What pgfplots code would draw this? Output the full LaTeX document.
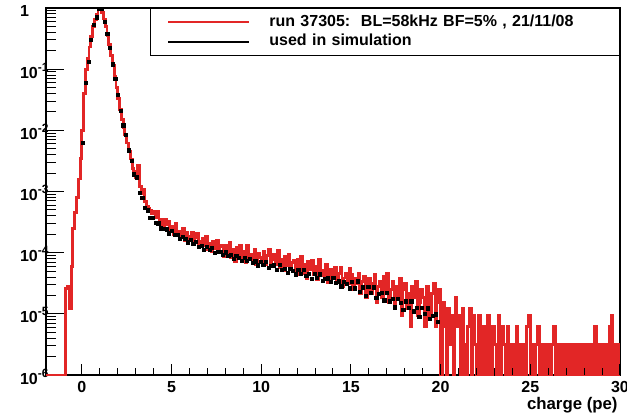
\documentclass[border=0pt]{standalone}
\usepackage{fontspec}
\setmainfont{Liberation Sans}
\usepackage{pgfplots}
\pgfplotsset{compat=1.18}
\definecolor{rootred}{RGB}{226,38,38}
\newcommand{\tenpow}[1]{10\raisebox{3.5pt}{\fontsize{6}{6}\selectfont\bfseries #1}}
\begin{document}
\begin{tikzpicture}
\useasboundingbox (-23pt,-21pt) rectangle (290.5pt,187.5pt);
\begin{axis}[
  at={(0,0)}, anchor=south west,
  scale only axis, width=287pt, height=183.5pt,
  xmin=-2, xmax=30, ymin=1e-6, ymax=1, ymode=log,
  axis line style={line width=0.6pt},
  tick align=inside, tick pos=left,
  xtick={0,5,10,15,20,25,30}, xticklabels={0,5,10,15,20,25,30},
  x tick style={draw=none},
  ytick={1e-6,1e-5,1e-4,1e-3,1e-2,1e-1,1},
  yticklabels={\tenpow{-6},\tenpow{-5},\tenpow{-4},\tenpow{-3},\tenpow{-2},\tenpow{-1},1},
  minor ytick={2e-6,3e-6,4e-6,5e-6,6e-6,7e-6,8e-6,9e-6,2e-5,3e-5,4e-5,5e-5,6e-5,7e-5,8e-5,9e-5,2e-4,3e-4,4e-4,5e-4,6e-4,7e-4,8e-4,9e-4,2e-3,3e-3,4e-3,5e-3,6e-3,7e-3,8e-3,9e-3,2e-2,3e-2,4e-2,5e-2,6e-2,7e-2,8e-2,9e-2,0.2,0.3,0.4,0.5,0.6,0.7,0.8,0.9},
  major tick length=9pt, minor tick length=5pt,
  y tick style={line width=0.5pt, black},
  tick label style={font=\bfseries\fontsize{8}{9}\selectfont},
  xticklabel style={anchor=base, yshift=-8.5pt},
  yticklabel style={anchor=base west, xshift=-16.5pt, yshift=-4.5pt},
  xlabel={charge (pe)},
  xlabel style={at={(axis description cs:1,0)}, anchor=north east, inner sep=0pt, yshift=-11pt, xshift=-1pt, font=\bfseries\fontsize{8.4}{10}\selectfont},
  legend cell align=left,
  legend image code/.code={\draw[#1] (0pt,0pt) -- (40.5pt,0pt);},
  legend style={at={(1,1)}, anchor=north east, draw=black, line width=0.6pt,
    inner xsep=8.5pt, inner ysep=2pt,
    font=\bfseries\fontsize{8}{9.6}\selectfont,
    nodes={inner xsep=0pt, inner ysep=1.2pt, text width=166.5pt, align=left},
    /tikz/column sep=9.5pt},
]
\addplot[const plot, rootred, line width=1.45pt, forget plot] coordinates {
(-2.0,1e-6)(-1.9,1e-6)(-1.8,1e-6)(-1.7,1e-6)(-1.6,1e-6)(-1.5,1e-6)(-1.4,1e-6)(-1.3,1e-6)(-1.2,1e-6)(-1.1,1e-6)(-1.0,1e-6)
(-0.9,2.6e-5)(-0.8,2.8e-5)(-0.7,1.2e-5)(-0.6,6e-5)(-0.5,2.5e-4)(-0.4,4.5e-4)(-0.3,8e-4)(-0.2,1.6e-3)(-0.1,3.5e-3)
(0.0,0.01)(0.1,0.04)(0.2,0.1)(0.3,0.15)(0.4,0.23)(0.5,0.34)(0.6,0.5)(0.7,0.64)(0.8,0.78)(0.9,0.93)
(1.0,1.0)(1.1,0.85)(1.2,0.66)(1.3,0.5)(1.4,0.36)(1.5,0.25)(1.6,0.17)(1.7,0.115)(1.8,0.075)(1.9,0.05)
(2.0,0.033)(2.1,0.022)(2.2,0.015)(2.3,0.011)(2.4,0.0085)(2.5,0.0062)(2.6,0.0046)(2.7,0.0034)(2.8,0.0024)(2.9,0.0021)
(3.0,0.0017)(3.1,0.0027)(3.2,0.0012)(3.3,0.00092)(3.4,0.0011)(3.5,0.00068)(3.6,0.00058)(3.7,0.00052)(3.8,0.00049)(3.9,0.00044)
(4.0,4.7e-4)(4.1,3.7e-4)(4.2,4.7e-4)(4.3,3.0e-4)(4.4,3.55e-4)(4.5,2.57e-4)(4.6,3.55e-4)(4.7,2.9e-4)(4.8,3.3e-4)(4.9,2.34e-4)
(5.0,2.71e-4)(5.1,2.0e-4)(5.2,3.0e-4)(5.3,2.07e-4)(5.4,2.24e-4)(5.5,1.84e-4)(5.6,2.49e-4)(5.7,1.59e-4)(5.8,2.16e-4)(5.9,1.86e-4)
(6.0,1.72e-4)(6.1,2.16e-4)(6.2,1.47e-4)(6.3,1.8e-4)(6.4,2.08e-4)(6.5,1.27e-4)(6.6,1.55e-4)(6.7,1.74e-4)(6.8,1.29e-4)(6.9,1.86e-4)
(7.0,1.14e-4)(7.1,1.43e-4)(7.2,1.03e-4)(7.3,1.52e-4)(7.4,1.16e-4)(7.5,1.57e-4)(7.6,1.07e-4)(7.7,1.24e-4)(7.8,1.31e-4)(7.9,8.7e-5)
(8.0,1.33e-4)(8.1,9.9e-5)(8.2,1.46e-4)(8.3,8.4e-5)(8.4,1.12e-4)(8.5,7.2e-5)(8.6,1.23e-4)(8.7,9.4e-5)(8.8,1.29e-4)(8.9,8.0e-5)
(9.0,1.03e-4)(9.1,7.0e-5)(9.2,1.29e-4)(9.3,7.85e-5)(9.4,9.2e-5)(9.5,7.2e-5)(9.6,1.11e-4)(9.7,6.3e-5)(9.8,9.8e-5)(9.9,8.4e-5)
(10.0,7.7e-5)(10.1,1.06e-4)(10.2,6.5e-5)(10.3,9.0e-5)(10.4,1.11e-4)(10.5,5.85e-5)(10.6,7.8e-5)(10.7,9.2e-5)(10.8,6.5e-5)(10.9,1.08e-4)
(11.0,5.7e-5)(11.1,7.85e-5)(11.2,5.15e-5)(11.3,8.8e-5)(11.4,6.2e-5)(11.5,9.2e-5)(11.6,5.6e-5)(11.7,6.9e-5)(11.8,7.55e-5)(11.9,4.4e-5)
(12.0,7.8e-5)(12.1,5.5e-5)(12.2,8.8e-5)(12.3,4.5e-5)(12.4,6.4e-5)(12.5,3.8e-5)(12.6,7.2e-5)(12.7,5.3e-5)(12.8,7.6e-5)(12.9,4.35e-5)
(13.0,5.9e-5)(13.1,3.7e-5)(13.2,7.7e-5)(13.3,4.2e-5)(13.4,5.1e-5)(13.5,3.7e-5)(13.6,6.3e-5)(13.7,3.2e-5)(13.8,5.35e-5)(13.9,4.45e-5)
(14.0,4.0e-5)(14.1,5.7e-5)(14.2,3.3e-5)(14.3,4.6e-5)(14.4,5.8e-5)(14.5,2.8e-5)(14.6,3.85e-5)(14.7,4.6e-5)(14.8,3.1e-5)(14.9,5.5e-5)
(15.0,4.34e-5)(15.1,2.48e-5)(15.2,3.72e-5)(15.3,3.1e-5)(15.4,4.65e-5)(15.5,2.17e-5)(15.6,3.41e-5)(15.7,4.03e-5)(15.8,1.86e-5)(15.9,3.1e-5)
(16.0,3.72e-5)(16.1,2.17e-5)(16.2,3.1e-5)(16.3,4.34e-5)(16.4,1.55e-5)(16.5,2.79e-5)(16.6,3.41e-5)(16.7,1.86e-5)(16.8,4.03e-5)(16.9,2.48e-5)
(17.0,4.65e-5)(17.1,1.55e-5)(17.2,2.48e-5)(17.3,3.41e-5)(17.4,1.24e-5)(17.5,2.79e-5)(17.6,1.86e-5)(17.7,3.72e-5)(17.8,9.3e-6)(17.9,2.48e-5)
(18.0,3.1e-5)(18.1,1.24e-5)(18.2,2.17e-5)(18.3,6.2e-6)(18.4,2.79e-5)(18.5,1.86e-5)(18.6,3.41e-5)(18.7,9.3e-6)(18.8,1.55e-5)(18.9,2.48e-5)
(19.0,1.86e-5)(19.1,6.2e-6)(19.2,2.79e-5)(19.3,1.24e-5)(19.4,9.3e-6)(19.5,2.17e-5)(19.6,3.1e-5)(19.7,6.2e-6)(19.8,1.55e-5)(19.9,2.48e-5)
(20.0,1e-6)(20.1,1.55e-5)(20.2,6.2e-6)(20.3,1e-6)(20.4,1.24e-5)(20.5,3.1e-6)(20.6,9.3e-6)(20.7,1e-6)(20.8,1.86e-5)(20.9,6.2e-6)
(21.0,9.3e-6)(21.1,1e-6)(21.2,1.24e-5)(21.3,3.1e-6)(21.4,1e-6)(21.5,6.2e-6)(21.6,1.24e-5)(21.7,1e-6)(21.8,9.3e-6)(21.9,3.1e-6)
(22.0,1e-6)(22.1,9.3e-6)(22.2,3.1e-6)(22.3,1e-6)(22.4,6.2e-6)(22.5,1e-6)(22.6,9.3e-6)(22.7,3.1e-6)(22.8,1e-6)(22.9,6.2e-6)
(23.0,3.1e-6)(23.1,1e-6)(23.2,9.3e-6)(23.3,1e-6)(23.4,6.2e-6)(23.5,3.1e-6)(23.6,1e-6)(23.7,6.2e-6)(23.8,1e-6)(23.9,3.1e-6)
(24.0,1e-6)(24.1,3.1e-6)(24.2,6.2e-6)(24.3,1e-6)(24.4,3.1e-6)(24.5,1e-6)(24.6,3.1e-6)(24.7,1e-6)(24.8,6.2e-6)(24.9,9.3e-6)
(25.0,1e-6)(25.1,3.1e-6)(25.2,1e-6)(25.3,3.1e-6)(25.4,6.2e-6)(25.5,1e-6)(25.6,3.1e-6)(25.7,1e-6)(25.8,3.1e-6)(25.9,1e-6)
(26.0,3.1e-6)(26.1,1e-6)(26.2,3.1e-6)(26.3,6.2e-6)(26.4,1e-6)(26.5,3.1e-6)(26.6,1e-6)(26.7,3.1e-6)(26.8,1e-6)(26.9,3.1e-6)
(27.0,1e-6)(27.1,3.1e-6)(27.2,1e-6)(27.3,3.1e-6)(27.4,1e-6)(27.5,3.1e-6)(27.6,1e-6)(27.7,3.1e-6)(27.8,1e-6)(27.9,3.1e-6)
(28.0,1e-6)(28.1,3.1e-6)(28.2,1e-6)(28.3,3.1e-6)(28.4,1e-6)(28.5,3.1e-6)(28.6,6.2e-6)(28.7,1e-6)(28.8,3.1e-6)(28.9,1e-6)
(29.0,3.1e-6)(29.1,1e-6)(29.2,3.1e-6)(29.3,1e-6)(29.4,6.2e-6)(29.5,9.3e-6)(29.6,1e-6)(29.7,3.1e-6)(29.8,1e-6)(29.9,3.1e-6)
(30.0,3.1e-6)
};
\addplot[only marks, mark=square*, mark size=0.8pt, black, forget plot] coordinates {
(0.07,6.2e-3)(0.22,0.06)(0.37,0.13)(0.52,0.3)(0.67,0.53)(0.82,0.7)(0.97,0.98)(1.12,0.98)(1.27,0.6)(1.42,0.38)
(1.57,0.22)(1.72,0.12)(1.87,0.07)(2.02,0.038)(2.17,0.021)(2.32,0.012)(2.47,0.0083)(2.62,0.0047)(2.77,0.0032)(2.92,0.0019)
(3.07,0.0017)(3.22,9.5e-4)(3.37,7.8e-4)(3.52,5.4e-4)(3.67,4.9e-4)(3.82,3.7e-4)(3.97,3.75e-4)(4.12,3.1e-4)(4.27,3.0e-4)(4.42,2.5e-4)
(4.57,2.45e-4)(4.72,2.4e-4)(4.87,2.07e-4)(5.02,2.27e-4)(5.17,1.94e-4)(5.32,1.94e-4)(5.47,1.66e-4)(5.62,1.82e-4)(5.77,1.67e-4)(5.92,1.47e-4)
(6.07,1.61e-4)(6.22,1.40e-4)(6.37,1.50e-4)(6.52,1.26e-4)(6.67,1.29e-4)(6.82,1.11e-4)(6.97,1.24e-4)(7.12,1.11e-4)(7.27,1.18e-4)(7.42,9.9e-5)
(7.57,1.02e-4)(7.72,1.04e-4)(7.87,9.1e-5)(8.02,1.01e-4)(8.17,8.9e-5)(8.32,9.1e-5)(8.47,7.9e-5)(8.62,8.8e-5)(8.77,8.2e-5)(8.92,7.4e-5)
(9.07,8.3e-5)(9.22,7.4e-5)(9.37,8.0e-5)(9.52,6.8e-5)(9.67,7.2e-5)(9.82,6.2e-5)(9.97,7.0e-5)(10.12,6.3e-5)(10.27,7.0e-5)(10.42,5.6e-5)
(10.57,6.0e-5)(10.72,6.2e-5)(10.87,5.3e-5)(11.02,6.4e-5)(11.17,5.3e-5)(11.32,5.5e-5)(11.47,4.6e-5)(11.62,5.5e-5)(11.77,5.1e-5)(11.92,4.4e-5)
(12.07,5.3e-5)(12.22,4.5e-5)(12.37,5.2e-5)(12.52,4.2e-5)(12.67,4.5e-5)(12.82,3.7e-5)(12.97,4.5e-5)(13.12,3.9e-5)(13.27,4.4e-5)(13.42,3.5e-5)
(13.57,3.7e-5)(13.72,3.8e-5)(13.87,3.3e-5)(14.02,3.9e-5)(14.17,3.25e-5)(14.32,3.4e-5)(14.47,2.8e-5)(14.62,3.3e-5)(14.77,3.1e-5)(14.92,2.6e-5)
(15.07,3.3e-5)(15.22,2.6e-5)(15.37,3.4e-5)(15.52,2.3e-5)(15.67,2.7e-5)(15.82,1.95e-5)(15.97,2.75e-5)(16.12,2.2e-5)(16.27,2.7e-5)(16.42,1.84e-5)
(16.57,2.1e-5)(16.72,2.2e-5)(16.87,1.66e-5)(17.02,2.2e-5)(17.17,1.6e-5)(17.32,1.74e-5)(17.47,1.27e-5)(17.62,1.74e-5)(17.77,1.5e-5)(17.92,1.17e-5)
(18.07,1.6e-5)(18.22,1.26e-5)(18.37,1.6e-5)(18.52,1.1e-5)(18.67,1.26e-5)(18.82,9.0e-6)(18.97,1.26e-5)(19.12,1.0e-5)(19.27,1.23e-5)(19.42,8.3e-6)
(19.57,9.3e-6)(19.72,9.8e-6)(19.87,7.4e-6)
};
\addlegendimage{rootred, line width=1pt}
\addlegendentry{run 37305:\ \ BL=58kHz BF=5\% , 21/11/08}
\addlegendimage{black, line width=1pt}
\addlegendentry{used in simulation}
\end{axis}
\begin{axis}[
  at={(0,0)}, anchor=south west,
  scale only axis, width=287pt, height=183.5pt,
  xmin=-2, xmax=30, ymin=0, ymax=1,
  axis line style={draw=none},
  ytick=\empty, xtick={0,5,10,15,20,25,30}, xticklabels={},
  minor x tick num=4, tick align=inside, xtick pos=bottom,
  major tick length=5.5pt, minor tick length=3.5pt,
  x tick style={line width=0.5pt, black},
]
\end{axis}
\end{tikzpicture}
\end{document}
